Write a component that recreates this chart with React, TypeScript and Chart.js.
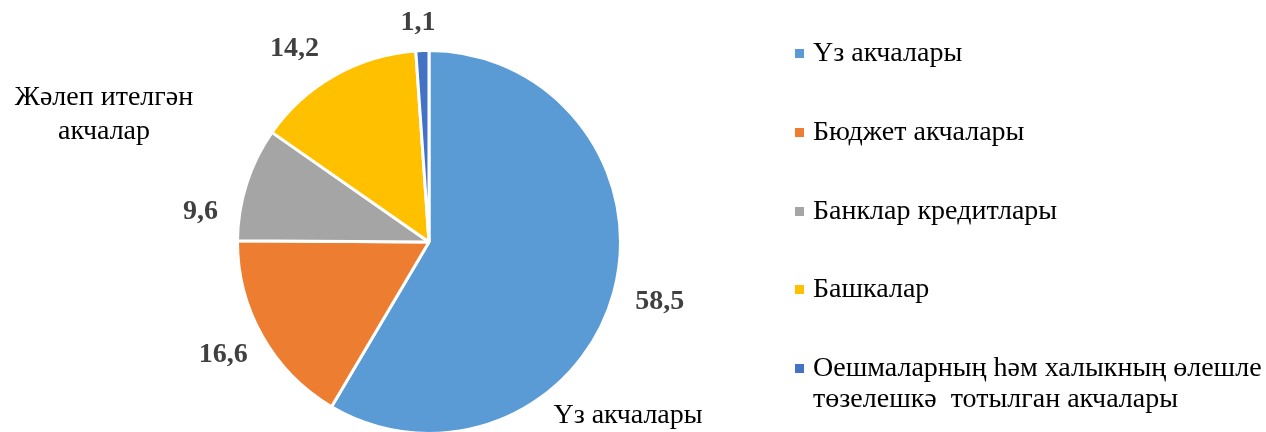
import React, { useEffect, useRef } from "react";
import { Chart, registerables } from "chart.js";

Chart.register(...registerables);

const categories: string[][] = [
  ["Үз акчалары"],
  ["Бюджет акчалары"],
  ["Банклар кредитлары"],
  ["Башкалар"],
  ["Оешмаларның һәм халыкның өлешле", "төзелешкә  тотылган акчалары"],
];
const shares: number[] = [58.5, 16.6, 9.6, 14.2, 1.1];
const valueLabels: string[] = ["58,5", "16,6", "9,6", "14,2", "1,1"];
const colors: string[] = ["#5B9BD5", "#ED7D31", "#A5A5A5", "#FFC000", "#4472C4"];
const groupTitles: string[][] = [["Жәлеп ителгән", "акчалар"], ["Үз акчалары"]];

const FONT = '"Liberation Serif", "Times New Roman", "DejaVu Serif", serif';

// label placement: angle shift (deg) from slice middle, distance beyond outer radius (px)
const labelShift = [-0.7, 0.8, -10.1, -5.3, -0.9];
const labelGap = [47, 43, 39, 44, 28];

const textPlugin = {
  id: "customText",
  afterDatasetsDraw(chart: any) {
    const ctx = chart.ctx;
    const meta = chart.getDatasetMeta(0);
    ctx.save();
    // value labels
    ctx.font = "bold 28px " + FONT;
    ctx.fillStyle = "#404040";
    ctx.textAlign = "center";
    ctx.textBaseline = "middle";
    meta.data.forEach((arc: any, i: number) => {
      const p = arc.getProps(["x", "y", "startAngle", "endAngle", "outerRadius"], true);
      const mid = (p.startAngle + p.endAngle) / 2 + (labelShift[i] * Math.PI) / 180;
      const d = p.outerRadius + labelGap[i];
      ctx.fillText(valueLabels[i], p.x + Math.cos(mid) * d, p.y + Math.sin(mid) * d);
    });
    // group titles
    ctx.font = "28px " + FONT;
    ctx.fillStyle = "#000000";
    ctx.fillText(groupTitles[0][0], 104, 98);
    ctx.fillText(groupTitles[0][1], 104, 132);
    ctx.fillText(groupTitles[1][0], 628, 416);
    // legend
    const rowsY = [54, 133, 212, 290, 369];
    const labels = chart.data.labels as string[][];
    const bg = chart.data.datasets[0].backgroundColor as string[];
    ctx.textAlign = "left";
    labels.forEach((lab, i) => {
      ctx.fillStyle = bg[i];
      ctx.fillRect(795, rowsY[i] - 5, 9, 9);
      ctx.fillStyle = "#000000";
      lab.forEach((line, j) => {
        ctx.fillText(line, 813, rowsY[i] + j * 31);
      });
    });
    ctx.restore();
  },
};

export default function App() {
  const ref = useRef<HTMLCanvasElement | null>(null);
  useEffect(() => {
    if (!ref.current) return;
    const chart = new Chart(ref.current, {
      type: "pie",
      data: {
        labels: categories as any,
        datasets: [
          {
            data: shares,
            backgroundColor: colors,
            borderColor: "#FFFFFF",
            borderWidth: 3,
          },
        ],
      },
      options: {
        animation: false,
        responsive: false,
        maintainAspectRatio: false,
        layout: { padding: { left: 236, right: 644, top: 49, bottom: 5 } },
        plugins: {
          legend: { display: false },
          tooltip: { enabled: false },
          title: { display: false },
        },
      },
      plugins: [textPlugin],
    });
    return () => chart.destroy();
  }, []);
  return (
    <div style={{ position: "absolute", left: 0, top: 0, width: 1266, height: 432, overflow: "hidden", background: "#fff" }}>
      <canvas ref={ref} width={1266} height={440} style={{ display: "block", width: 1266, height: 440 }} />
    </div>
  );
}
